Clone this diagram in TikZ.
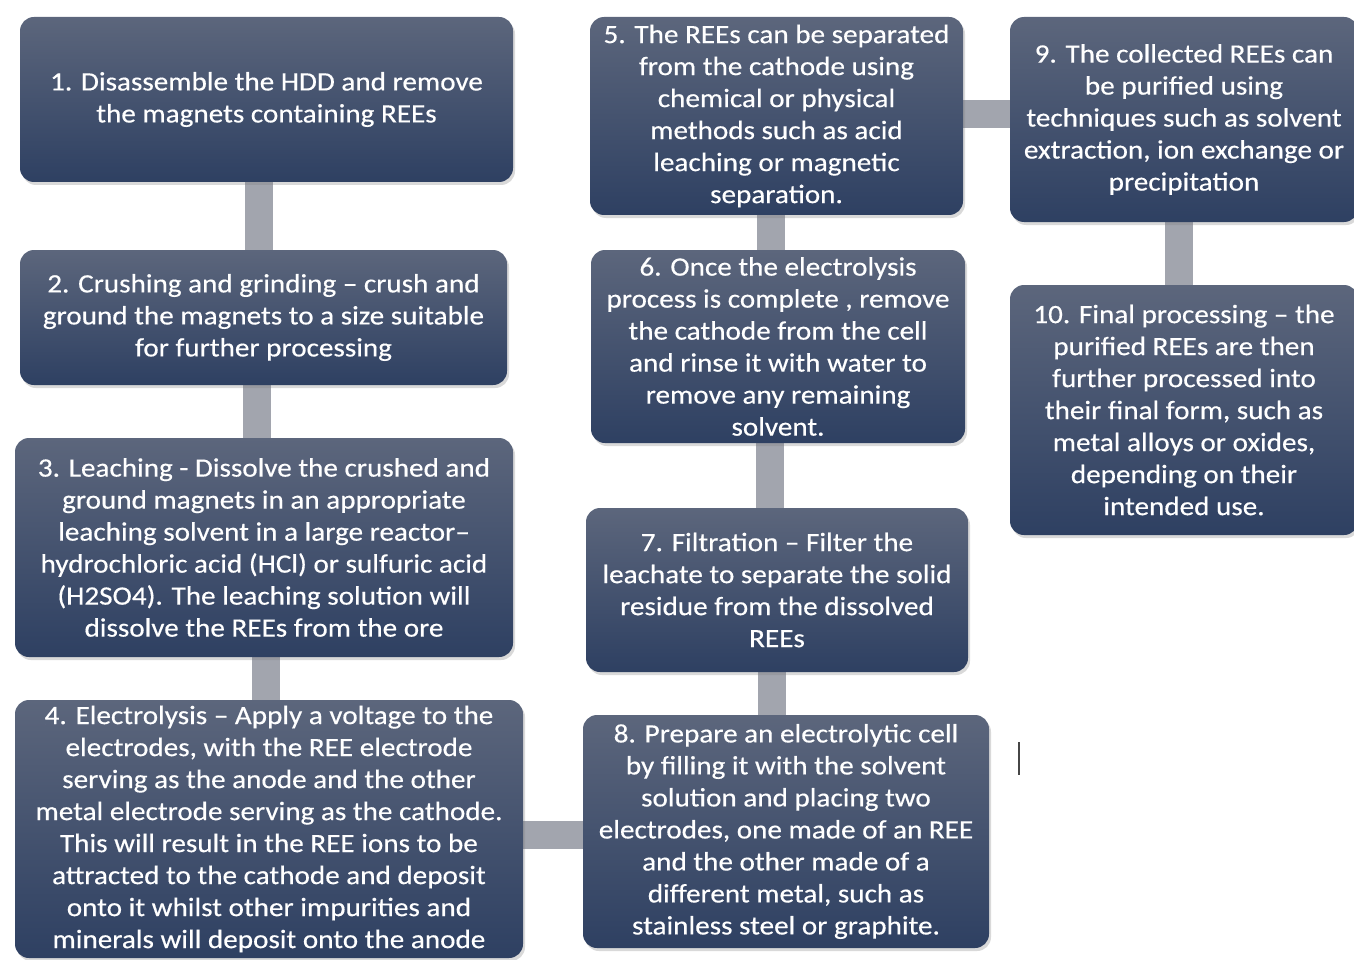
\documentclass[tikz,border=0pt]{standalone}
\usepackage{fontspec}
\setmainfont{Carlito}[FakeStretch=1.1, FakeBold=0.4]
\usetikzlibrary{shadows,backgrounds}
\definecolor{boxtop}{RGB}{92,102,124}
\definecolor{boxbot}{RGB}{46,64,98}
\definecolor{connc}{RGB}{162,165,174}
\definecolor{cursorc}{RGB}{70,70,70}
\tikzset{
  box/.style={rounded corners=14pt, top color=boxtop, bottom color=boxbot, draw=none,
    text=white, align=center, font=\fontsize{26.5}{32}\selectfont, inner sep=0pt,
    drop shadow={opacity=0.3, shadow xshift=2pt, shadow yshift=-3pt}},
  conn/.style={line width=28pt, draw=connc},
}
\begin{document}
\begin{tikzpicture}[x=1pt,y=-1pt]
\useasboundingbox (0,0) rectangle (1354,960);
\node[box, minimum width=493pt, minimum height=165pt] (n1) at (266.5,99.5)
  {1. Disassemble the HDD and remove\\the magnets containing REEs};
\node[box, minimum width=487pt, minimum height=135pt] (n2) at (263.5,317.5)
  {2. Crushing and grinding – crush and\\ground the magnets to a size suitable\\for further processing};
\node[box, minimum width=498pt, minimum height=219pt] (n3) at (264,547.5)
  {3. Leaching - Dissolve the crushed and\\ground magnets in an appropriate\\leaching solvent in a large reactor–\\hydrochloric acid (HCl) or sulfuric acid\\(H2SO4). The leaching solution will\\dissolve the REEs from the ore};
\node[box, minimum width=508pt, minimum height=258pt] (n4) at (269,829)
  {4. Electrolysis – Apply a voltage to the\\electrodes, with the REE electrode\\serving as the anode and the other\\metal electrode serving as the cathode.\\This will result in the REE ions to be\\attracted to the cathode and deposit\\onto it whilst other impurities and\\minerals will deposit onto the anode};
\node[box, minimum width=373pt, minimum height=198pt] (n5) at (776.5,116)
  {5. The REEs can be separated\\from the cathode using\\chemical or physical\\methods such as acid\\leaching or magnetic\\separation.};
\node[box, minimum width=374pt, minimum height=193pt] (n6) at (778,346.5)
  {6. Once the electrolysis\\process is complete , remove\\the cathode from the cell\\and rinse it with water to\\remove any remaining\\solvent.};
\node[box, minimum width=382pt, minimum height=164pt] (n7) at (777,590)
  {7. Filtration – Filter the\\leachate to separate the solid\\residue from the dissolved\\REEs};
\node[box, minimum width=406pt, minimum height=233pt] (n8) at (786,831.5)
  {8. Prepare an electrolytic cell\\by filling it with the solvent\\solution and placing two\\electrodes, one made of an REE\\and the other made of a\\different metal, such as\\stainless steel or graphite.};
\node[box, minimum width=348pt, minimum height=205pt] (n9) at (1184,119.5)
  {9. The collected REEs can\\be purified using\\techniques such as solvent\\extraction, ion exchange or\\precipitation};
\node[box, minimum width=348pt, minimum height=250pt] (n10) at (1184,410)
  {10. Final processing – the\\purified REEs are then\\further processed into\\their final form, such as\\metal alloys or oxides,\\depending on their\\intended use.};
\begin{scope}[on background layer]
  \draw[conn] ([xshift=-7.5pt]n1.south) -- ([xshift=-7.5pt]n1.south |- n2.north);
  \draw[conn] ([xshift=-6.5pt]n2.south) -- ([xshift=-6.5pt]n2.south |- n3.north);
  \draw[conn] ([xshift=2pt]n3.south) -- ([xshift=2pt]n3.south |- n4.north);
  \draw[conn] ([yshift=-6pt]n4.east) -- ([yshift=-6pt]n4.east -| n8.west);
  \draw[conn] ([xshift=-5pt]n7.south) -- ([xshift=-5pt]n7.south |- n8.north);
  \draw[conn] ([xshift=-8pt]n6.south) -- ([xshift=-8pt]n6.south |- n7.north);
  \draw[conn] ([xshift=-5.5pt]n5.south) -- ([xshift=-5.5pt]n5.south |- n6.north);
  \draw[conn] ([yshift=2pt]n5.east) -- ([yshift=2pt]n5.east -| n9.west);
  \draw[conn] ([xshift=-5pt]n9.south) -- ([xshift=-5pt]n9.south |- n10.north);
\end{scope}
\draw[line width=2pt, cursorc] (1019,742) -- (1019,775);
\end{tikzpicture}
\end{document}
